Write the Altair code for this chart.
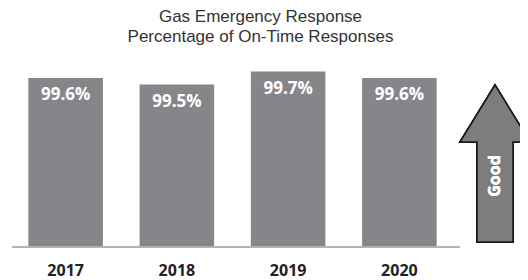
import altair as alt
import pandas as pd

years = ["2017", "2018", "2019", "2020"]
values = [99.6, 99.5, 99.7, 99.6]
labels = ["99.6%", "99.5%", "99.7%", "99.6%"]
title_lines = ["Gas Emergency Response", "Percentage of On-Time Responses"]

df = pd.DataFrame({"year": years, "value": values, "label": labels})

W, H = 445, 195
BAR = "#86868a"

base = alt.Chart(df).encode(
    x=alt.X("year:N", sort=years,
            scale=alt.Scale(paddingInner=0.33, paddingOuter=0.165),
            axis=alt.Axis(title=None, labelAngle=0, domain=False, ticks=False,
                          labelFont="Open Sans", labelFontWeight="bold",
                          labelFontSize=16, labelColor="#222222",
                          labelPadding=15))
)

yscale = alt.Scale(domain=[97, 100], zero=False, clamp=True)

bars = base.mark_bar(color=BAR).encode(
    y=alt.Y("value:Q", scale=yscale, axis=None)
)

text = base.mark_text(color="white", font="Open Sans", fontWeight="bold",
                      fontSize=17, baseline="middle", dy=17).encode(
    y=alt.Y("value:Q", scale=yscale, axis=None),
    text="label:N"
)

baseline = alt.Chart(df).mark_rule(color="#b0b0b0", strokeWidth=1).encode(
    x=alt.value(2), x2=alt.value(450), y=alt.value(H)
)

arrow_path = ("M0,-1 L0.446,-0.274 L0.229,-0.274 L0.229,1 L-0.229,1 "
              "L-0.229,-0.274 L-0.446,-0.274 Z")
arrow = alt.Chart(df).mark_point(
    shape=arrow_path, size=157 * 157, filled=True, fill="#7d7d80",
    stroke="#1a1a1a", strokeWidth=1.5, opacity=1
).encode(x=alt.value(485), y=alt.value(111.5))

good = alt.Chart(df).mark_text(
    text="Good", angle=270, color="white", font="Open Sans",
    fontWeight="bold", fontSize=16, align="center", baseline="middle"
).encode(x=alt.value(485), y=alt.value(124))

chart = alt.layer(bars, text, baseline, arrow, good).properties(
    width=W, height=H,
    autosize=alt.AutoSizeParams(type="none"),
    padding={"left": 2, "top": 44, "right": 65, "bottom": 32},
    title=alt.TitleParams(title_lines, anchor="middle", dx=28, offset=6,
                          font="Liberation Sans", fontSize=17, fontWeight="normal",
                          color="#333333", lineHeight=20)
).configure_view(stroke=None)

chart.save("out.html", embed_options={"renderer": "svg", "actions": False})
